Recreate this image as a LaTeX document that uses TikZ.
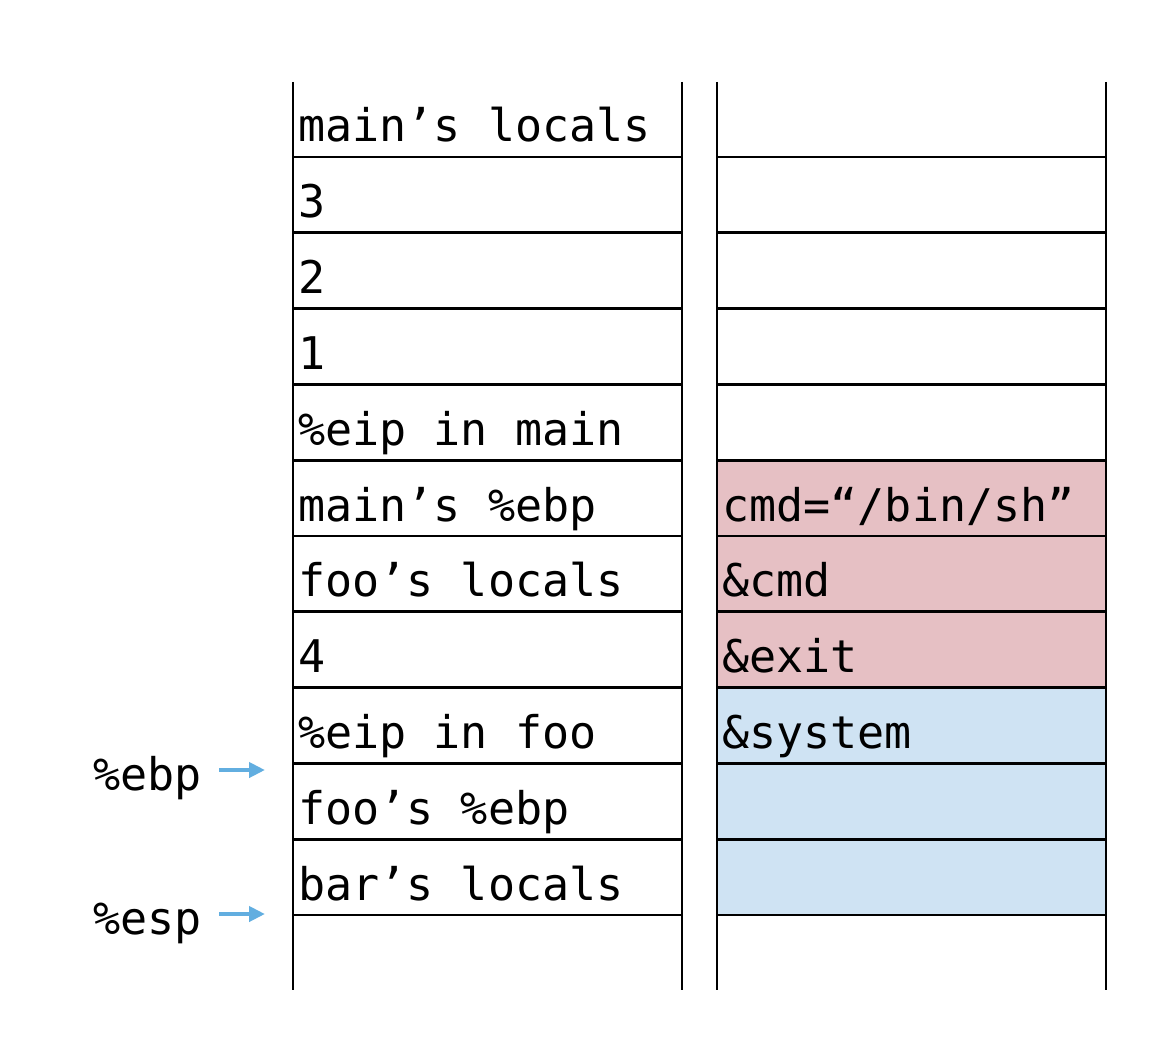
\documentclass[tikz,border=0pt]{standalone}
\usepackage{fontspec}
\setmonofont{DejaVu Sans Mono}
\usetikzlibrary{arrows.meta,positioning}
\definecolor{attackred}{HTML}{E6C0C4}
\definecolor{attackblue}{HTML}{CFE3F3}
\definecolor{ptrblue}{HTML}{62AEE0}

\newcommand{\rowh}{75.8}
\newcommand{\rowz}{81.2}

\begin{document}
\begin{tikzpicture}[x=0.5pt,y=-0.5pt,
  cell/.style={font=\ttfamily\fontsize{22.5}{26}\selectfont,anchor=base west,inner sep=0pt},
  reglabel/.style={font=\ttfamily\fontsize{22.5}{26}\selectfont,anchor=base east,inner sep=0pt},
  grid/.style={line width=1.35pt},
  ptr/.style={draw=ptrblue,line width=2pt,shorten <=8.5pt,-{Triangle[length=8pt,width=7.5pt]}}]
\useasboundingbox (0,0) rectangle (1154,1042);

% payload on the right
\fill[attackred] (717,{\rowz+5*\rowh}) rectangle (1106,{\rowz+8*\rowh});
\fill[attackblue] (717,{\rowz+8*\rowh}) rectangle (1106,{\rowz+11*\rowh});

% stack walls
\foreach \xa in {293,682,717,1106}
  \draw[grid] (\xa,82) -- (\xa,990);
\foreach \i in {1,...,11}
  \draw[grid] (293,{\rowz+\i*\rowh}) -- (682,{\rowz+\i*\rowh})
              (717,{\rowz+\i*\rowh}) -- (1106,{\rowz+\i*\rowh});

% left stack
\foreach \txt [count=\i from 0] in {main’s locals,3,2,1,\%eip in main,main’s \%ebp,
    foo’s locals,4,\%eip in foo,foo’s \%ebp,bar’s locals}
  \node[cell] (left\i) at (298,{\rowz+(\i+1)*\rowh-15}) {\txt};

% right stack
\node[cell] (cmd)    at (722,{\rowz+6*\rowh-15}) {cmd=“/bin/sh”};
\node[cell] (cmdptr) at (722,{\rowz+7*\rowh-15}) {\&cmd};
\node[cell] (exit)   at (722,{\rowz+8*\rowh-15}) {\&exit};
\node[cell] (system) at (722,{\rowz+9*\rowh-15}) {\&system};

% registers
\node[reglabel] (ebp) at (202,790) {\%ebp};
\node[reglabel] (esp) at (202,934) {\%esp};
\coordinate (ebptip) at (265,770);
\coordinate (esptip) at (265,914);
\draw[ptr] (ebp.east |- ebptip) -- (ebptip);
\draw[ptr] (esp.east |- esptip) -- (esptip);
\end{tikzpicture}
\end{document}
